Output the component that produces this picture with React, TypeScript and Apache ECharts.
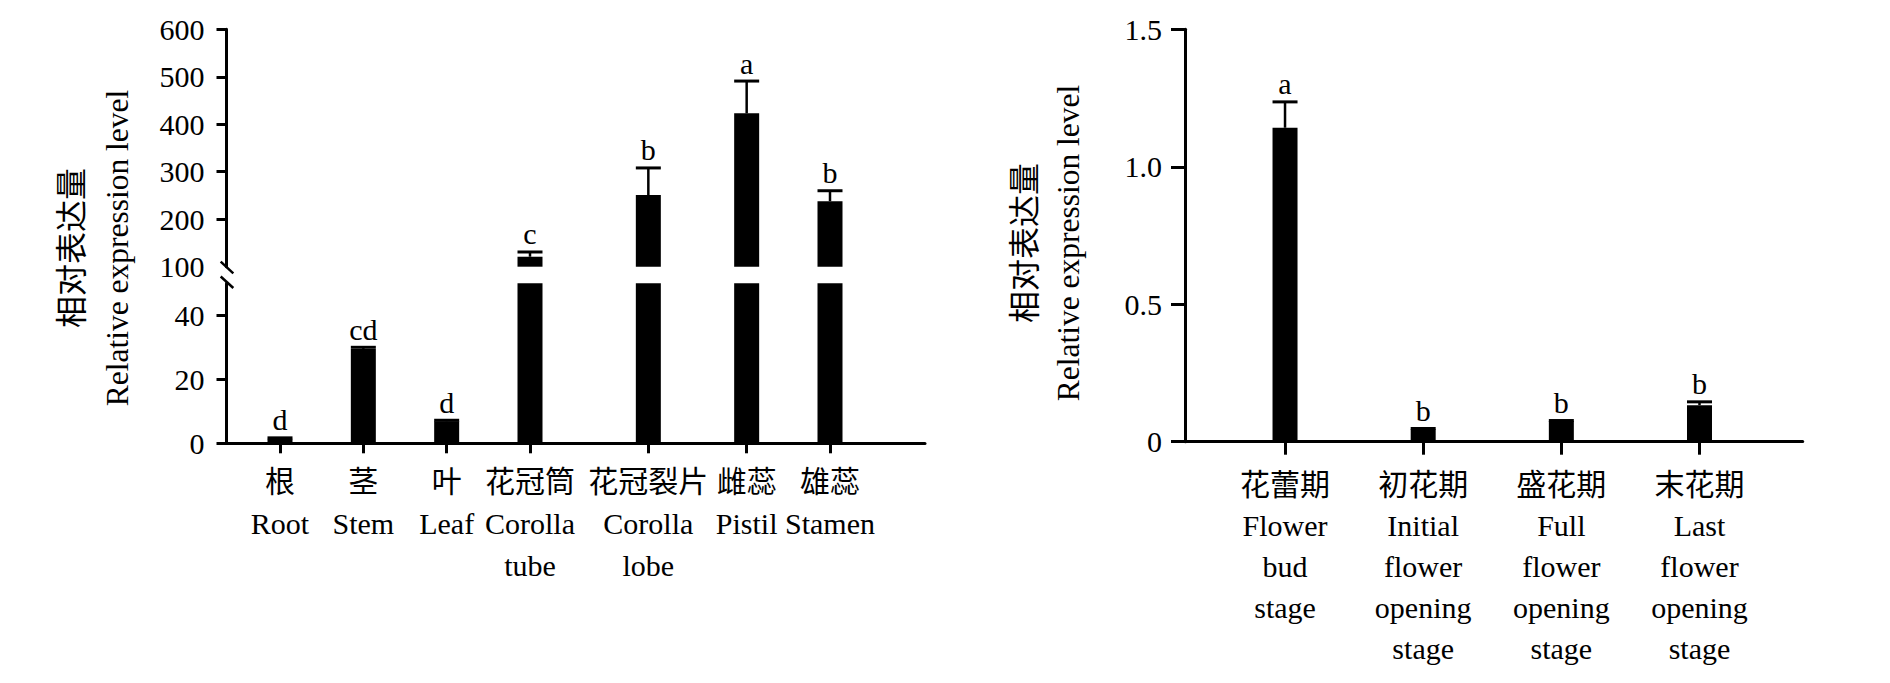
import React, { useEffect, useRef } from "react";
import * as echarts from "echarts";

// ---- Left panel: tissues ----
const tissueCn = ["根", "茎", "叶", "花冠筒", "花冠裂片", "雌蕊", "雄蕊"];
const tissueEn = ["Root", "Stem", "Leaf", "Corolla\ntube", "Corolla\nlobe", "Pistil", "Stamen"];
const tissueMean = [1.4, 29.5, 6.9, 121, 251, 423, 238];
const tissueSd = [0.3, 0.5, 0.3, 10, 57, 68, 22];
const tissueLetters = ["d", "cd", "d", "c", "b", "a", "b"];
// layout: category slot of each tissue along the x axis (the original plot spaces them unevenly)
const tissueSlot = [0, 1, 2, 3, 4.42, 5.6, 6.6];

// broken y axis: lower segment 0–50, upper segment 100–600
const LOWER_MAX = 50;
const UPPER_MIN = 100;
const UPPER_MAX = 600;
const lowerTicks = [0, 20, 40];
const upperTickLabels = [100, 200, 300, 400, 500, 600];
const upperTicks = [200, 300, 400, 500, 600];

// ---- Right panel: flowering stages ----
const stageCn = ["花蕾期", "初花期", "盛花期", "末花期"];
const stageEn = [
  "Flower\nbud\nstage",
  "Initial\nflower\nopening\nstage",
  "Full\nflower\nopening\nstage",
  "Last\nflower\nopening\nstage",
];
const stageMean = [1.142, 0.045, 0.075, 0.133];
const stageSd = [0.094, 0.003, 0.002, 0.012];
const stageLetters = ["a", "b", "b", "b"];
const stageSlot = [0, 1, 2, 3];
const stageTicks = [0, 0.5, 1.0, 1.5];

const yNameCn = "相对表达量";
const yNameEn = "Relative expression level";

const FONT = '"Liberation Serif", "Times New Roman", "Noto Sans CJK SC", serif';
const FS = 30;

function errRender(letters: string[], capHalf: number) {
  return (params: any, api: any) => {
    const x = api.value(0);
    const m = api.value(1);
    const sd = api.value(2);
    const idx = api.value(3);
    const base = api.coord([x, m]);
    const top = api.coord([x, m + sd]);
    const children: any[] = [];
    if (sd > 0) {
      children.push({
        type: "line",
        shape: { x1: top[0], y1: top[1], x2: base[0], y2: base[1] },
        style: { stroke: "#000", lineWidth: 2.5 },
      });
      children.push({
        type: "line",
        shape: { x1: top[0] - capHalf, y1: top[1], x2: top[0] + capHalf, y2: top[1] },
        style: { stroke: "#000", lineWidth: 3 },
      });
    }
    children.push({
      type: "text",
      x: top[0],
      y: top[1] - 3,
      style: {
        text: letters[idx],
        align: "center",
        verticalAlign: "bottom",
        fontSize: FS,
        fontFamily: FONT,
        fill: "#000",
      },
    });
    return { type: "group", children };
  };
}

export default function App() {
  const ref = useRef<HTMLDivElement>(null);

  useEffect(() => {
    if (!ref.current) return;
    const chart = echarts.init(ref.current, null, { renderer: "svg" });

    const axisLineStyle = { color: "#000", width: 3 };
    const labelBase = { color: "#000", fontSize: FS, fontFamily: FONT };

    const tissueBars = tissueMean.map((v, i) => [tissueSlot[i], v]);
    const tissueErr = tissueMean.map((v, i) => [tissueSlot[i], v, tissueSd[i], i]);
    const tissueErrLow = tissueErr.filter((d) => d[1] <= LOWER_MAX);
    const tissueErrHigh = tissueErr.filter((d) => d[1] > LOWER_MAX);

    const stageBars = stageMean.map((v, i) => [stageSlot[i], v]);
    const stageErr = stageMean.map((v, i) => [stageSlot[i], v, stageSd[i], i]);

    const tissueMin = -0.642;
    const tissueMax = 7.74;

    const option: any = {
      animation: false,
      backgroundColor: "#fff",
      grid: [
        { left: 226.5, right: 965, top: 29.3, height: 237.4, containLabel: false },
        { left: 226.5, right: 965, top: 283.3, height: 160, containLabel: false },
        { left: 1185, right: 87.3, top: 29.3, height: 412.4, containLabel: false },
      ],
      xAxis: [
        {
          gridIndex: 0,
          type: "value",
          min: tissueMin,
          max: tissueMax,
          show: false,
          splitLine: { show: false },
        },
        {
          gridIndex: 1,
          type: "value",
          min: tissueMin,
          max: tissueMax,
          splitLine: { show: false },
          axisLine: { show: true, onZero: false, lineStyle: axisLineStyle },
          axisTick: { show: true, length: 10, customValues: tissueSlot, lineStyle: { color: "#000", width: 3 } },
          axisLabel: {
            ...labelBase,
            lineHeight: 42,
            margin: 17,
            customValues: tissueSlot,
            formatter: (v: number) => {
              const i = tissueSlot.indexOf(v);
              return `${tissueCn[i]}\n${tissueEn[i]}`;
            },
          },
        },
        {
          gridIndex: 2,
          type: "value",
          min: -0.724,
          max: 3.747,
          splitLine: { show: false },
          axisLine: { show: true, onZero: false, lineStyle: axisLineStyle },
          axisTick: { show: true, length: 13, customValues: stageSlot, lineStyle: { color: "#000", width: 3 } },
          axisLabel: {
            ...labelBase,
            lineHeight: 41,
            margin: 22,
            customValues: stageSlot,
            formatter: (v: number) => {
              const i = stageSlot.indexOf(v);
              return `${stageCn[i]}\n${stageEn[i]}`;
            },
          },
        },
      ],
      yAxis: [
        {
          gridIndex: 0,
          type: "value",
          min: UPPER_MIN,
          max: UPPER_MAX,
          interval: 100,
          splitLine: { show: false },
          axisLine: { show: true, onZero: false, lineStyle: axisLineStyle },
          axisTick: { show: true, length: 10, customValues: upperTicks, lineStyle: { color: "#000", width: 3 } },
          axisLabel: { ...labelBase, margin: 22, customValues: upperTickLabels },
        },
        {
          gridIndex: 1,
          type: "value",
          min: 0,
          max: LOWER_MAX,
          splitLine: { show: false },
          axisLine: { show: true, onZero: false, lineStyle: axisLineStyle },
          axisTick: { show: true, length: 10, customValues: lowerTicks, lineStyle: { color: "#000", width: 3 } },
          axisLabel: { ...labelBase, margin: 22, customValues: lowerTicks },
        },
        {
          gridIndex: 2,
          type: "value",
          min: 0,
          max: 1.5,
          interval: 0.5,
          splitLine: { show: false },
          axisLine: { show: true, onZero: false, lineStyle: axisLineStyle },
          axisTick: { show: true, length: 14, customValues: stageTicks, lineStyle: { color: "#000", width: 3 } },
          axisLabel: {
            ...labelBase,
            margin: 23,
            customValues: stageTicks,
            formatter: (v: number) => (v === 0 ? "0" : v.toFixed(1)),
          },
        },
      ],
      series: [
        {
          type: "bar",
          xAxisIndex: 0,
          yAxisIndex: 0,
          data: tissueBars,
          barWidth: 25,
          clip: true,
          itemStyle: { color: "#000" },
        },
        {
          type: "bar",
          xAxisIndex: 1,
          yAxisIndex: 1,
          data: tissueBars,
          barWidth: 25,
          clip: true,
          itemStyle: { color: "#000" },
        },
        {
          type: "custom",
          xAxisIndex: 0,
          yAxisIndex: 0,
          data: tissueErrHigh,
          renderItem: errRender(tissueLetters, 12.5),
          z: 5,
        },
        {
          type: "custom",
          xAxisIndex: 1,
          yAxisIndex: 1,
          data: tissueErrLow,
          renderItem: errRender(tissueLetters, 12.5),
          z: 5,
        },
        {
          type: "bar",
          xAxisIndex: 2,
          yAxisIndex: 2,
          data: stageBars,
          barWidth: 25,
          itemStyle: { color: "#000" },
        },
        {
          type: "custom",
          xAxisIndex: 2,
          yAxisIndex: 2,
          data: stageErr,
          renderItem: errRender(stageLetters, 12.5),
          z: 5,
        },
      ],
      graphic: [
        { type: "line", shape: { x1: 220.7, y1: 261.7, x2: 233.3, y2: 273.3 }, style: { stroke: "#000", lineWidth: 2.5 } },
        { type: "line", shape: { x1: 220.7, y1: 276.5, x2: 233.3, y2: 288 }, style: { stroke: "#000", lineWidth: 2.5 } },
        {
          type: "text", x: 71.7, y: 248, rotation: Math.PI / 2,
          style: { text: yNameCn, align: "center", verticalAlign: "middle", fontSize: 32, fontFamily: FONT, fill: "#000" },
        },
        {
          type: "text", x: 117, y: 248, rotation: Math.PI / 2,
          style: { text: yNameEn, align: "center", verticalAlign: "middle", fontSize: 31.5, fontFamily: FONT, fill: "#000" },
        },
        {
          type: "text", x: 1024.7, y: 243, rotation: Math.PI / 2,
          style: { text: yNameCn, align: "center", verticalAlign: "middle", fontSize: 32, fontFamily: FONT, fill: "#000" },
        },
        {
          type: "text", x: 1068.5, y: 243, rotation: Math.PI / 2,
          style: { text: yNameEn, align: "center", verticalAlign: "middle", fontSize: 31.5, fontFamily: FONT, fill: "#000" },
        },
      ],
    };

    chart.setOption(option);
    return () => chart.dispose();
  }, []);

  return (
    <div
      ref={ref}
      style={{ position: "fixed", left: 0, top: 0, width: 1890, height: 683, background: "#fff" }}
    />
  );
}
